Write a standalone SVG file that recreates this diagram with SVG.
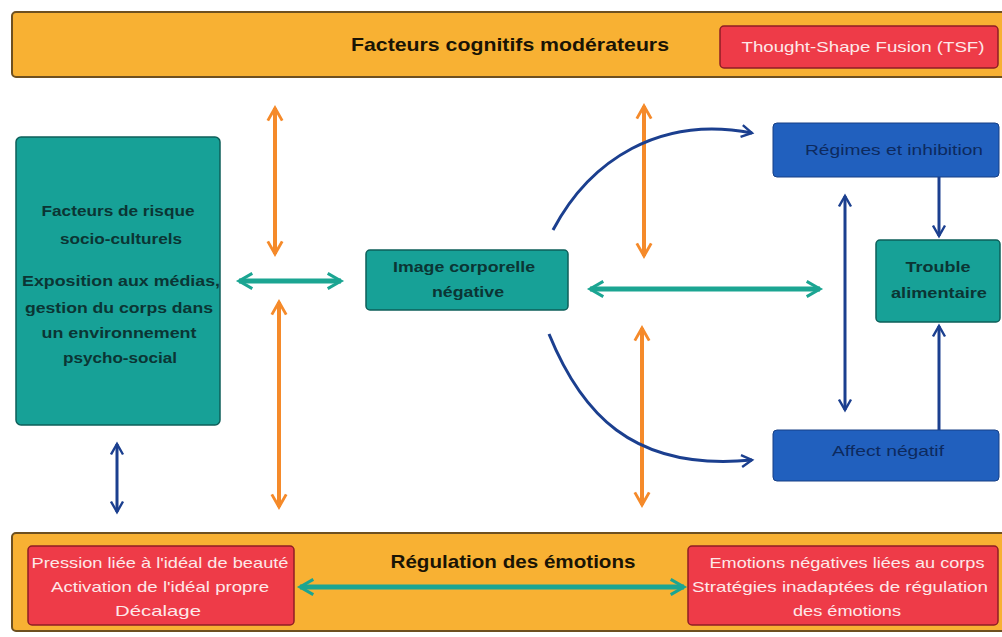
<svg xmlns="http://www.w3.org/2000/svg" width="1002" height="637" viewBox="0 0 1002 637">
<defs>
<style>
.band{fill:#F8B133;stroke:#6E5020;stroke-width:2}
.red{fill:#EE3B48;stroke:#8E1E25;stroke-width:1.5}
.teal{fill:#17A197;stroke:#0E5F5A;stroke-width:1.5}
.blue{fill:#2160BE;stroke:#173F85;stroke-width:1}
.t{font-family:"Liberation Sans",Arial,sans-serif;text-anchor:middle}
.title{font-size:19px;font-weight:bold;fill:#1a1405}
.wt{font-size:15px;fill:#fde8e8}
.dk{font-size:15px;font-weight:bold;fill:#0b3534}
.bt{font-size:15px;fill:#0d2a5e}
.oa{stroke:#F58A2A;stroke-width:4;fill:none}
.ta{stroke:#1BA592;stroke-width:5;fill:none}
.ba{stroke:#1B3F8F;stroke-width:3;fill:none}
</style>
<marker id="mo" viewBox="0 0 10 10" refX="8" refY="5" markerWidth="4.5" markerHeight="4.5" orient="auto-start-reverse" markerUnits="strokeWidth"><path d="M1,1 L8,5 L1,9" fill="none" stroke="#F58A2A" stroke-width="1.6"/></marker>
<marker id="mt" viewBox="0 0 10 10" refX="8" refY="5" markerWidth="3.8" markerHeight="3.8" orient="auto-start-reverse" markerUnits="strokeWidth"><path d="M1,1 L8,5 L1,9" fill="none" stroke="#1BA592" stroke-width="1.6"/></marker>
<marker id="mb" viewBox="0 0 10 10" refX="8" refY="5" markerWidth="5" markerHeight="5" orient="auto-start-reverse" markerUnits="strokeWidth"><path d="M1,1 L8,5 L1,9" fill="none" stroke="#1B3F8F" stroke-width="1.6"/></marker>
</defs>
<rect width="1002" height="637" fill="#ffffff"/>

<g id="top-band">
<rect class="band" x="12" y="12" width="1000" height="65" rx="4"/>
<text class="t title" x="510" y="51" textLength="318" lengthAdjust="spacingAndGlyphs">Facteurs cognitifs modérateurs</text>
</g>
<g id="tsf">
<rect class="red" x="720" y="26" width="278" height="42" rx="4"/>
<text class="t wt" x="863" y="52" textLength="243" lengthAdjust="spacingAndGlyphs">Thought-Shape Fusion (TSF)</text>
</g>

<g id="bottom-band">
<rect class="band" x="12" y="533" width="1000" height="98" rx="4"/>
<text class="t title" x="513" y="568" textLength="245" lengthAdjust="spacingAndGlyphs">Régulation des émotions</text>
</g>
<g id="pression">
<rect class="red" x="28" y="546" width="266" height="79" rx="4"/>
<text class="t wt" x="160" y="568" textLength="257" lengthAdjust="spacingAndGlyphs">Pression liée à l'idéal de beauté</text>
<text class="t wt" x="160" y="592" textLength="218" lengthAdjust="spacingAndGlyphs">Activation de l'idéal propre</text>
<text class="t wt" x="158" y="616" textLength="86" lengthAdjust="spacingAndGlyphs">Décalage</text>
</g>
<g id="emotions">
<rect class="red" x="688" y="546" width="310" height="79" rx="4"/>
<text class="t wt" x="847" y="568" textLength="275" lengthAdjust="spacingAndGlyphs">Emotions négatives liées au corps</text>
<text class="t wt" x="840" y="592" textLength="296" lengthAdjust="spacingAndGlyphs">Stratégies inadaptées de régulation</text>
<text class="t wt" x="847" y="616" textLength="108" lengthAdjust="spacingAndGlyphs">des émotions</text>
</g>

<g id="facteurs-risque">
<rect class="teal" x="16" y="137" width="204" height="288" rx="5"/>
<text class="t dk" x="118" y="216" textLength="153" lengthAdjust="spacingAndGlyphs">Facteurs de risque</text>
<text class="t dk" x="121" y="244" textLength="122" lengthAdjust="spacingAndGlyphs">socio-culturels</text>
<text class="t dk" x="121" y="286" textLength="198" lengthAdjust="spacingAndGlyphs">Exposition aux médias,</text>
<text class="t dk" x="119" y="313" textLength="188" lengthAdjust="spacingAndGlyphs">gestion du corps dans</text>
<text class="t dk" x="119" y="338" textLength="155" lengthAdjust="spacingAndGlyphs">un environnement</text>
<text class="t dk" x="120" y="363" textLength="114" lengthAdjust="spacingAndGlyphs">psycho-social</text>
</g>

<g id="image-corporelle">
<rect class="teal" x="366" y="250" width="202" height="60" rx="4"/>
<text class="t dk" x="464" y="272" textLength="142" lengthAdjust="spacingAndGlyphs">Image corporelle</text>
<text class="t dk" x="468" y="297" textLength="72" lengthAdjust="spacingAndGlyphs">négative</text>
</g>

<g id="regimes">
<rect class="blue" x="773" y="123" width="226" height="54" rx="4"/>
<text class="t bt" x="894" y="155" textLength="178" lengthAdjust="spacingAndGlyphs">Régimes et inhibition</text>
</g>
<g id="trouble">
<rect class="teal" x="876" y="240" width="124" height="82" rx="4"/>
<text class="t dk" x="938" y="272" textLength="65" lengthAdjust="spacingAndGlyphs">Trouble</text>
<text class="t dk" x="939" y="298" textLength="96" lengthAdjust="spacingAndGlyphs">alimentaire</text>
</g>
<g id="affect">
<rect class="blue" x="773" y="430" width="226" height="51" rx="4"/>
<text class="t bt" x="888" y="456" textLength="112" lengthAdjust="spacingAndGlyphs">Affect négatif</text>
</g>

<g id="connectors">
<line class="oa" x1="275" y1="108" x2="275" y2="254" marker-start="url(#mo)" marker-end="url(#mo)"/>
<line class="oa" x1="279" y1="302" x2="279" y2="507" marker-start="url(#mo)" marker-end="url(#mo)"/>
<line class="oa" x1="644" y1="106" x2="644" y2="256" marker-start="url(#mo)" marker-end="url(#mo)"/>
<line class="oa" x1="642" y1="328" x2="642" y2="505" marker-start="url(#mo)" marker-end="url(#mo)"/>
<line class="ta" x1="239" y1="281" x2="341" y2="281" marker-start="url(#mt)" marker-end="url(#mt)"/>
<line class="ta" x1="590" y1="289" x2="820" y2="289" marker-start="url(#mt)" marker-end="url(#mt)"/>
<line class="ta" x1="300" y1="587" x2="684" y2="587" marker-start="url(#mt)" marker-end="url(#mt)"/>
<path class="ba" d="M553,230 C590,160 660,115 752,133" marker-end="url(#mb)"/>
<path class="ba" d="M549,334 C580,410 630,472 752,460" marker-end="url(#mb)"/>
<line class="ba" x1="845" y1="196" x2="845" y2="410" marker-start="url(#mb)" marker-end="url(#mb)"/>
<line class="ba" x1="939" y1="177" x2="939" y2="236" marker-end="url(#mb)"/>
<line class="ba" x1="939" y1="430" x2="939" y2="326" marker-end="url(#mb)"/>
<line class="ba" x1="117" y1="444" x2="117" y2="512" marker-start="url(#mb)" marker-end="url(#mb)"/>
</g>
</svg>
